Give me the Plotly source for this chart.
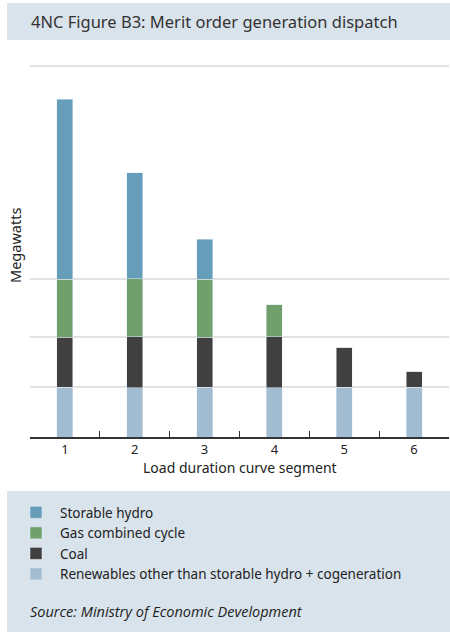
import plotly.graph_objects as go

# relative heights (no scale shown on the original)
segments = ["1", "2", "3", "4", "5", "6"]
renewables = [50, 49.5, 50, 49.5, 50, 50]
coal = [50, 51, 50, 51, 40, 16]
gas = [58, 58, 58, 32, 0, 0]
hydro = [180, 106, 40, 0, 0, 0]
grid_vals = [50, 100, 158, 371]

W, H = 450, 632
L, R, T, B = 30, 1, 62, 195
FONT = "Noto Sans"
TXT = "#222222"


def px(x):
    return (x - L) / (W - L - R)


def py(y):
    return (H - B - y) / (H - T - B)


fig = go.Figure()
series = [
    ("Renewables other than storable hydro + cogeneration", renewables, "#a2bdd2"),
    ("Coal", coal, "#404040"),
    ("Gas combined cycle", gas, "#70a06c"),
    ("Storable hydro", hydro, "#669eba"),
]
for name, vals, col in series:
    fig.add_trace(go.Bar(x=segments, y=vals, name=name, marker_color=col,
                         width=0.23, hoverinfo="skip"))

fig.update_layout(
    width=W, height=H, barmode="stack",
    margin=dict(l=L, r=R, t=T, b=B),
    paper_bgcolor="white", plot_bgcolor="white",
    font=dict(family=FONT, color=TXT, size=13),
    showlegend=True,
    legend=dict(x=px(12), y=py(497), xanchor="left", yanchor="top",
                traceorder="reversed", bgcolor="rgba(0,0,0,0)",
                font=dict(size=13.5), itemwidth=38),
    xaxis=dict(type="category", showline=True, linecolor="#333333", linewidth=1.5,
               ticks="inside", tickson="boundaries", ticklen=6, tickcolor="#333333",
               tickfont=dict(size=13), showgrid=False, fixedrange=True),
    yaxis=dict(range=[0, 375], tickvals=grid_vals, showticklabels=False,
               showgrid=True, gridcolor="#e2e2e2", gridwidth=1.5,
               zeroline=False, fixedrange=True),
)

# title band and legend band
fig.add_shape(type="rect", xref="paper", yref="paper", x0=px(7), x1=px(450),
              y0=py(40), y1=py(3), fillcolor="#d9e3ec", line_width=0, layer="below")
fig.add_shape(type="rect", xref="paper", yref="paper", x0=px(7), x1=px(450),
              y0=py(632), y1=py(491), fillcolor="#d9e3ec", line_width=0, layer="below")

fig.add_annotation(text="4NC Figure B3: Merit order generation dispatch",
                   xref="paper", yref="paper", x=px(29), y=py(21.5),
                   xanchor="left", yanchor="middle", showarrow=False,
                   font=dict(size=16.5, color="#333333"))
fig.add_annotation(text="Megawatts", textangle=-90, xref="paper", yref="paper",
                   x=px(15), y=py(246), xanchor="center", yanchor="middle",
                   showarrow=False, font=dict(size=14.5))
fig.add_annotation(text="Load duration curve segment", xref="paper", yref="paper",
                   x=px(240), y=py(467), xanchor="center", yanchor="middle",
                   showarrow=False, font=dict(size=14))
fig.add_annotation(text="Source: Ministry of Economic Development",
                   xref="paper", yref="paper", x=px(28), y=py(611),
                   xanchor="left", yanchor="middle", showarrow=False,
                   font=dict(family="Open Sans", size=14.5, style="italic"))

fig.write_html("out.html", config={"displayModeBar": False},
               post_script="document.body.style.margin='0';")
